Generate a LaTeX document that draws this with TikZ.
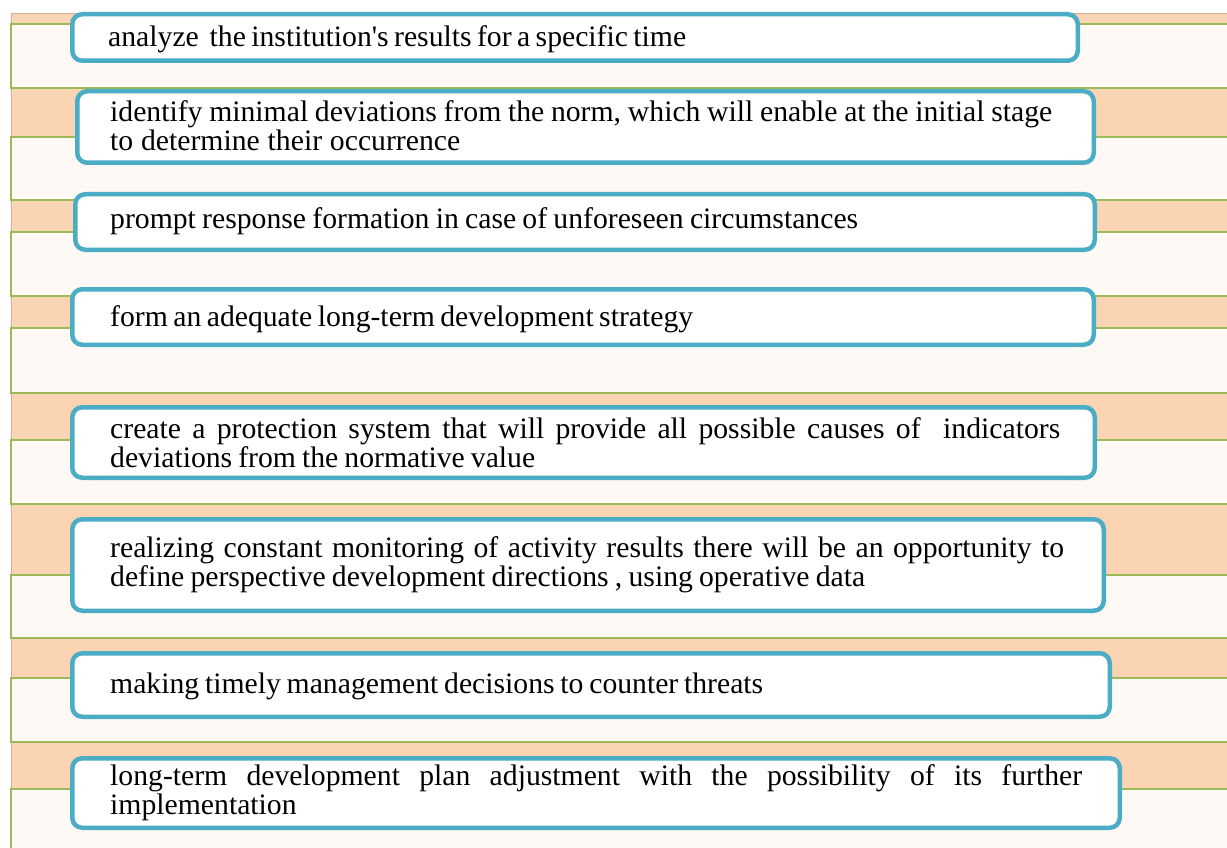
\documentclass[tikz,border=0pt]{standalone}
\usepackage{fontspec}
\setmainfont{Liberation Serif}
\definecolor{peach}{HTML}{FBD4B4}
\definecolor{cream}{HTML}{FEF9F5}
\definecolor{bandgreen}{HTML}{9BBB59}
\definecolor{itemblue}{HTML}{4BACC6}
\definecolor{tanline}{HTML}{CDAE98}
\newcommand\fitline[2]{\makebox[#1pt][s]{#2}}
\tikzset{
  band/.style={fill=cream, draw=bandgreen, line width=2pt},
  itembox/.style={draw=itemblue, fill=white, line width=4.5pt, rounded corners=10pt, inner sep=0pt},
  itemtext/.style={anchor=west, inner sep=0pt, align=left, font=\fontsize{29.7}{29}\selectfont, text=black}
}
\begin{document}
\begin{tikzpicture}[x=1pt,y=-1pt]
\useasboundingbox (0,0) rectangle (1227,848);
\clip (0,0) rectangle (1227,848);
% background
\fill[fill=white] (0,0) rectangle (1227,848);
\filldraw[fill=peach, draw=tanline, line width=1pt] (11,14) rectangle (1240,870);
\draw[band] (11,24) rectangle (1240,88);
\draw[band] (11,137) rectangle (1240,200);
\draw[band] (11,232) rectangle (1240,296);
\draw[band] (11,328) rectangle (1240,393);
\draw[band] (11,440) rectangle (1240,504);
\draw[band] (11,575) rectangle (1240,638);
\draw[band] (11,678) rectangle (1240,742);
\draw[band] (11,789) rectangle (1240,870);
% item boxes
\node[itembox, minimum width=1005.5pt, minimum height=46.5pt] (b1) at (575,37.5) {};
\node[itembox, minimum width=1016.5pt, minimum height=71.5pt] (b2) at (585.5,127) {};
\node[itembox, minimum width=1019.5pt, minimum height=55.5pt] (b3) at (585,222) {};
\node[itembox, minimum width=1021.5pt, minimum height=55.5pt] (b4) at (583,317) {};
\node[itembox, minimum width=1022.5pt, minimum height=70.5pt] (b5) at (583.5,442.5) {};
\node[itembox, minimum width=1031.5pt, minimum height=91.5pt] (b6) at (588,565) {};
\node[itembox, minimum width=1037.5pt, minimum height=63.5pt] (b7) at (591,685) {};
\node[itembox, minimum width=1047.5pt, minimum height=69.5pt] (b8) at (596,793) {};
% texts
\node[itemtext] (t1) at (108,39) {\fitline{578}{analyze \ the institution\textquotesingle s results for a specific time}};
\node[itemtext] (t2) at (110,126) {\fitline{942}{identify minimal deviations from the norm, which will enable at the initial stage}\\\fitline{350}{to determine their occurrence}};
\node[itemtext] (t3) at (110,221) {\fitline{748}{prompt response formation in case of unforeseen circumstances}};
\node[itemtext] (t4) at (110,319) {\fitline{583}{form an adequate long-term development strategy}};
\node[itemtext] (t5) at (110,443) {\fitline{950}{create a protection system that will provide all possible causes of \ indicators}\\\fitline{425}{deviations from the normative value}};
\node[itemtext] (t6) at (110,565) {\fitline{954}{realizing constant monitoring of activity results there will be an opportunity to}\\\fitline{755}{define perspective development directions , using operative data}};
\node[itemtext] (t7) at (110,686) {\fitline{653}{making timely management decisions to counter threats}};
\node[itemtext] (t8) at (110,793) {\fitline{972}{long-term development plan adjustment with the possibility of its further}\\implementation};
\end{tikzpicture}
\end{document}
